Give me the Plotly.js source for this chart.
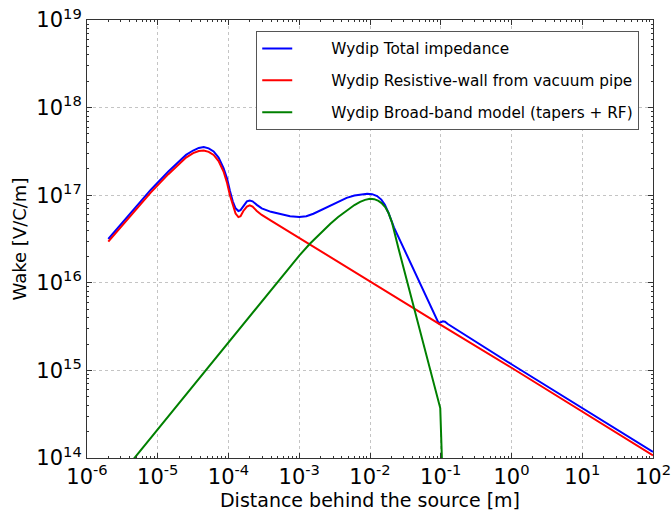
<!DOCTYPE html>
<html>
<head>
<meta charset="utf-8">
<script src="https://cdn.plot.ly/plotly-3.0.1.min.js"></script>
<style>html,body{margin:0;padding:0;background:#fff;}#chart{width:672px;height:512px;}</style>
</head>
<body>
<div id="chart"></div>
<script>
// Distance behind the source [m] and wake [V/C/m]
const totalX = [2.0e-6, 3.98e-6, 7.94e-6, 1.413e-5, 2.0e-5, 2.512e-5, 3.162e-5, 3.80e-5, 4.467e-5, 5.248e-5, 6.166e-5, 7.244e-5, 8.511e-5, 9.55e-5, 1.047e-4, 1.148e-4, 1.259e-4, 1.380e-4, 1.479e-4, 1.622e-4, 1.820e-4, 1.995e-4, 2.188e-4, 2.512e-4, 2.951e-4, 3.981e-4, 5.37e-4, 7.41e-4, 1.0e-3, 1.259e-3, 1.585e-3, 2.089e-3, 2.754e-3, 3.548e-3, 4.677e-3, 6.026e-3, 7.586e-3, 9.12e-3, 1.072e-2, 1.259e-2, 1.445e-2, 1.622e-2, 1.820e-2, 1.995e-2, 2.188e-2, 9.33e-2, 0.1, 0.1072, 0.1148, 0.1259, 1, 10, 100];
const totalY = [3.162e16, 6.026e16, 1.148e17, 1.862e17, 2.455e17, 2.884e17, 3.236e17, 3.467e17, 3.548e17, 3.428e17, 3.162e17, 2.692e17, 2.042e17, 1.549e17, 1.122e17, 8.511e16, 7.079e16, 6.607e16, 6.761e16, 7.586e16, 8.511e16, 8.710e16, 8.511e16, 7.762e16, 7.079e16, 6.457e16, 6.095e16, 5.754e16, 5.623e16, 5.754e16, 6.138e16, 6.855e16, 7.691e16, 8.511e16, 9.333e16, 9.908e16, 1.026e17, 1.040e17, 1.028e17, 9.772e16, 8.913e16, 7.762e16, 6.310e16, 5.129e16, 4.266e16, 3.467e15, 3.548e15, 3.631e15, 3.589e15, 3.388e15, 1.175e15, 3.715e14, 1.175e14];

const rwX = [2.0e-6, 3.98e-6, 7.94e-6, 1.413e-5, 2.0e-5, 2.512e-5, 3.162e-5, 3.80e-5, 4.467e-5, 5.248e-5, 6.166e-5, 7.244e-5, 8.511e-5, 9.55e-5, 1.047e-4, 1.148e-4, 1.259e-4, 1.380e-4, 1.479e-4, 1.622e-4, 1.820e-4, 1.995e-4, 2.188e-4, 2.512e-4, 2.951e-4, 3.981e-4, 1.0e-3, 1.0e-2, 0.1, 1, 10, 100];
const rwY = [2.95e16, 5.62e16, 1.072e17, 1.738e17, 2.291e17, 2.692e17, 3.020e17, 3.199e17, 3.236e17, 3.126e17, 2.884e17, 2.455e17, 1.862e17, 1.380e17, 1.0e17, 7.586e16, 6.166e16, 5.623e16, 5.754e16, 6.607e16, 7.413e16, 7.674e16, 7.413e16, 6.607e16, 5.957e16, 5.129e16, 3.236e16, 1.023e16, 3.311e15, 1.072e15, 3.388e14, 1.072e14];

const bbX = [3.98e-6, 5.13e-4, 1.0e-3, 1.413e-3, 1.995e-3, 2.754e-3, 3.548e-3, 4.677e-3, 6.026e-3, 7.244e-3, 8.511e-3, 1.0e-2, 1.148e-2, 1.318e-2, 1.479e-2, 1.641e-2, 1.820e-2, 2.042e-2, 2.239e-2, 2.512e-2, 9.84e-2, 0.1012, 0.1047];
const bbY = [8.51e13, 1.072e16, 2.046e16, 2.793e16, 3.707e16, 4.732e16, 5.649e16, 6.730e16, 7.727e16, 8.395e16, 8.851e16, 9.120e16, 9.016e16, 8.610e16, 8.035e16, 7.328e16, 6.310e16, 4.898e16, 3.631e16, 2.512e16, 3.715e14, 1.778e14, 7.94e13];

const seriesNames = ["Wydip Total impedance", "Wydip Resistive-wall from vacuum pipe", "Wydip Broad-band model (tapers + RF)"];

const xTickVals = [1e-6, 1e-5, 1e-4, 1e-3, 1e-2, 1e-1, 1e0, 1e1, 1e2];
const xTickText = ["10<sup>-6</sup>", "10<sup>-5</sup>", "10<sup>-4</sup>", "10<sup>-3</sup>", "10<sup>-2</sup>", "10<sup>-1</sup>", "10<sup>0</sup>", "10<sup>1</sup>", "10<sup>2</sup>"];
const yTickVals = [1e14, 1e15, 1e16, 1e17, 1e18, 1e19];
const yTickText = ["10<sup>14</sup>", "10<sup>15</sup>", "10<sup>16</sup>", "10<sup>17</sup>", "10<sup>18</sup>", "10<sup>19</sup>"];

function minorVals(lo, hi) {
  const out = [];
  for (let e = lo; e < hi; e++) for (let m = 2; m <= 9; m++) out.push(m * Math.pow(10, e));
  return out;
}

const pad = '\u00a0\u00a0\u00a0\u00a0\u00a0\u00a0\u00a0';
const colors = ['#0000ff', '#ff0000', '#008000'];
const traces = [
  {x: totalX, y: totalY, name: pad + seriesNames[0], legendgroup: 'a', mode: 'lines', line: {color: colors[0], width: 2}},
  {x: rwX, y: rwY, name: pad + seriesNames[1], legendgroup: 'b', mode: 'lines', line: {color: colors[1], width: 2}},
  {x: bbX, y: bbY, name: pad + seriesNames[2], legendgroup: 'c', mode: 'lines', line: {color: colors[2], width: 2}}
];

const axisCommon = {
  type: 'log',
  showline: true, linecolor: '#333', linewidth: 1, mirror: 'ticks',
  ticks: 'inside', ticklen: 5, tickcolor: '#333',
  showgrid: true, gridcolor: '#c4c4c4', griddash: 'dot', gridwidth: 1,
  zeroline: false,
  tickmode: 'array',
  tickfont: {family: 'DejaVu Sans', size: 21, color: '#000'}
};

const layout = {
  width: 672, height: 512,
  margin: {l: 87, r: 19, t: 20, b: 54},
  paper_bgcolor: '#fff', plot_bgcolor: '#fff',
  font: {family: 'DejaVu Sans', color: '#000'},
  showlegend: true,
  legend: {
    x: 0.299, y: 0.975, xanchor: 'left', yanchor: 'top',
    bgcolor: '#fff', bordercolor: '#555', borderwidth: 1,
    font: {family: 'DejaVu Sans', size: 15.3, color: '#000'},
    tracegroupgap: 9
  },
  xaxis: Object.assign({}, axisCommon, {
    range: [-6, 2], tickvals: xTickVals, ticktext: xTickText,
    minor: {tickmode: 'array', tickvals: minorVals(-6, 2), ticks: 'inside', ticklen: 2, tickcolor: '#333', showgrid: false},
    title: {text: 'Distance behind the source [m]', font: {family: 'DejaVu Sans', size: 19, color: '#000'}, standoff: 3}
  }),
  yaxis: Object.assign({}, axisCommon, {
    range: [14, 19], tickvals: yTickVals, ticktext: yTickText,
    minor: {tickmode: 'array', tickvals: minorVals(14, 19), ticks: 'inside', ticklen: 2, tickcolor: '#333', showgrid: false},
    title: {text: 'Wake [V/C/m]', font: {family: 'DejaVu Sans', size: 18, color: '#000'}, standoff: 5}
  })
};

Plotly.newPlot('chart', traces, layout, {staticPlot: true, displayModeBar: false});
</script>
</body>
</html>
